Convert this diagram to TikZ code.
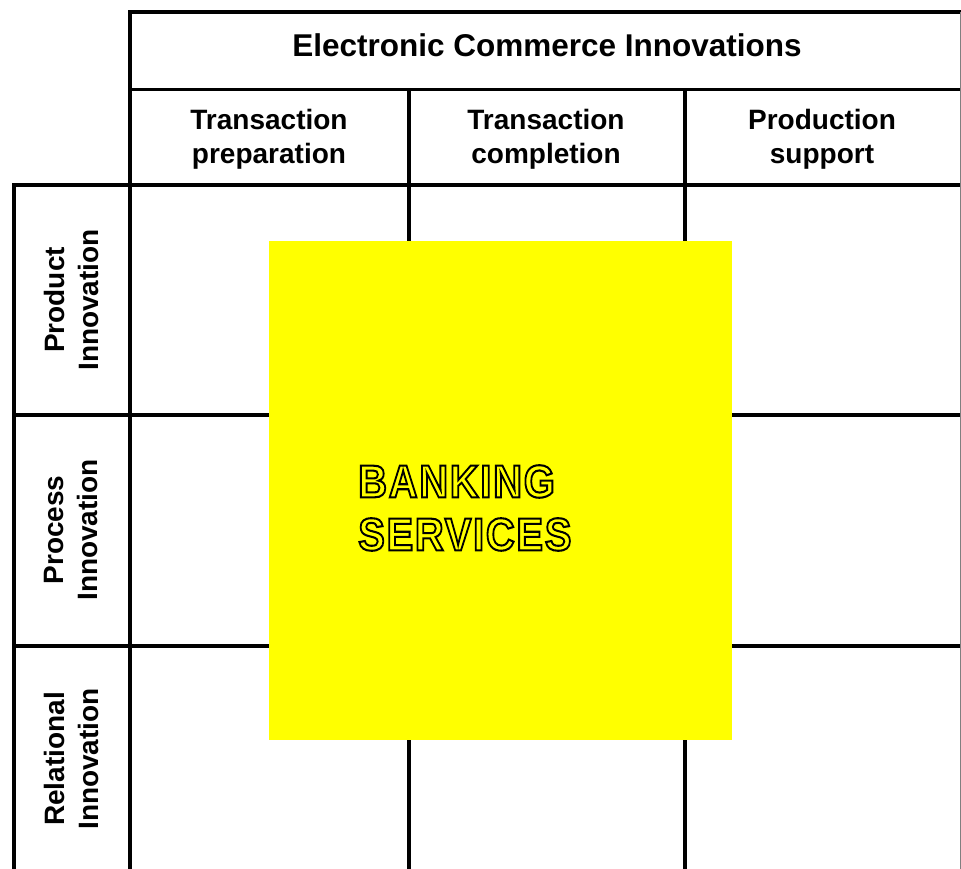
\documentclass[tikz,border=0pt]{standalone}
\usepackage{fontspec}
\usepackage{graphicx}
\setmainfont{Liberation Sans}
\usetikzlibrary{positioning}
\definecolor{banner}{HTML}{FFFF00}
% hollow lettering: fill with the text colour, stroke the glyph edge in black
\newcommand{\hollowtext}[1]{\scalebox{1}[1.15]{\special{pdf:literal direct 2 Tr 1.8 w 0 0 0 RG}#1\special{pdf:literal direct 0 Tr}}}

\begin{document}
\begin{tikzpicture}[x=1pt,y=1pt,
  rule/.style={line width=4.5pt,line join=miter},
  thinrule/.style={line width=3pt},
  head/.style={font=\bfseries\fontsize{28}{34}\selectfont,align=center,inner sep=0pt},
  side/.style={head,rotate=90},
  title/.style={font=\bfseries\fontsize{31.5}{36}\selectfont,inner sep=0pt},
  hollow/.style={font=\bfseries\fontsize{40}{53}\selectfont\addfontfeature{LetterSpace=4.2},text=banner,align=left,inner sep=0pt}]
  \useasboundingbox (0,0) rectangle (961,869);
  % frame of the matrix
  \draw[rule] (130,0) |- (961,857);
  \draw[rule] (14,0) |- (961,684);
  \draw[thinrule] (130,779) -- (961,779);
  \draw[rule] (409,0) -- (409,779);
  \draw[rule] (685,0) -- (685,779);
  \draw[rule] (14,454) -- (961,454);
  \draw[rule] (14,223) -- (961,223);
  \draw[gray,line width=1pt] (960.5,0) -- (960.5,857);
  % column headings
  \node[title] (ec) at (547,824) {Electronic Commerce Innovations};
  \node[head] (prep) at (269,730) {Transaction\\preparation};
  \node[head] (compl) at (546,730) {Transaction\\completion};
  \node[head] (supp) at (822,730) {Production\\support};
  % row headings
  \node[side] (prod) at (71,569) {Product\\Innovation};
  \node[side] (proc) at (71,339) {Process\\Innovation};
  \node[side] (rel) at (71,110) {Relational\\Innovation};
  % the banking block laid over the grid
  \node[fill=banner,anchor=south west,minimum width=463,minimum height=499,inner sep=0pt] (bank) at (269,129) {};
  \node[hollow,anchor=west] (banktxt) at (358,361) {\hollowtext{BANKING}\\\hollowtext{SERVICES}};
\end{tikzpicture}
\end{document}
